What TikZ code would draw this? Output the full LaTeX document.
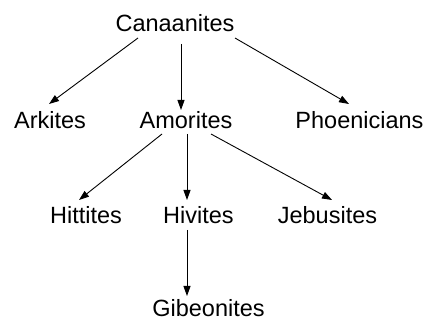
\documentclass[tikz,border=0pt]{standalone}
\usepackage{fontspec}
\setmainfont{Liberation Sans}
\usetikzlibrary{arrows.meta}
\begin{document}
\begin{tikzpicture}[x=1pt,y=-1pt,
  lbl/.style={anchor=base,inner sep=0pt,font=\fontsize{23.5}{28}\selectfont},
  edge/.style={line width=0.9pt,-{Triangle[length=10pt,width=7pt]}}]
\fill[white] (0,0) rectangle (426,320);
\useasboundingbox (0,0) rectangle (426,320);
\node[lbl] (can) at (175,32) {Canaanites};
\node[lbl] (ark) at (50,129) {Arkites};
\node[lbl] (amo) at (186,129) {Amorites};
\node[lbl] (pho) at (359.5,129) {Phoenicians};
\node[lbl] (hit) at (86,224) {Hittites};
\node[lbl] (hiv) at (198.5,224) {Hivites};
\node[lbl] (jeb) at (327.5,224) {Jebusites};
\node[lbl] (gib) at (208.5,317) {Gibeonites};
\draw[edge] ([shift={(-37pt,-6pt)}]can.base) -- ([shift={(-1pt,25pt)}]ark.base);
\draw[edge] ([shift={(6pt,-12pt)}]can.base) -- ([shift={(-5pt,19pt)}]amo.base);
\draw[edge] ([shift={(60pt,-6pt)}]can.base) -- ([shift={(-10.5pt,25pt)}]pho.base);
\draw[edge] ([shift={(-24pt,-5pt)}]amo.base) -- ([shift={(-7pt,24pt)}]hit.base);
\draw[edge] ([shift={(1pt,-5pt)}]amo.base) -- ([shift={(-11.5pt,24pt)}]hiv.base);
\draw[edge] ([shift={(25pt,-5pt)}]amo.base) -- ([shift={(4.5pt,24pt)}]jeb.base);
\draw[edge] ([shift={(-11.5pt,-6pt)}]hiv.base) -- ([shift={(-21.5pt,21pt)}]gib.base);
\end{tikzpicture}
\end{document}
